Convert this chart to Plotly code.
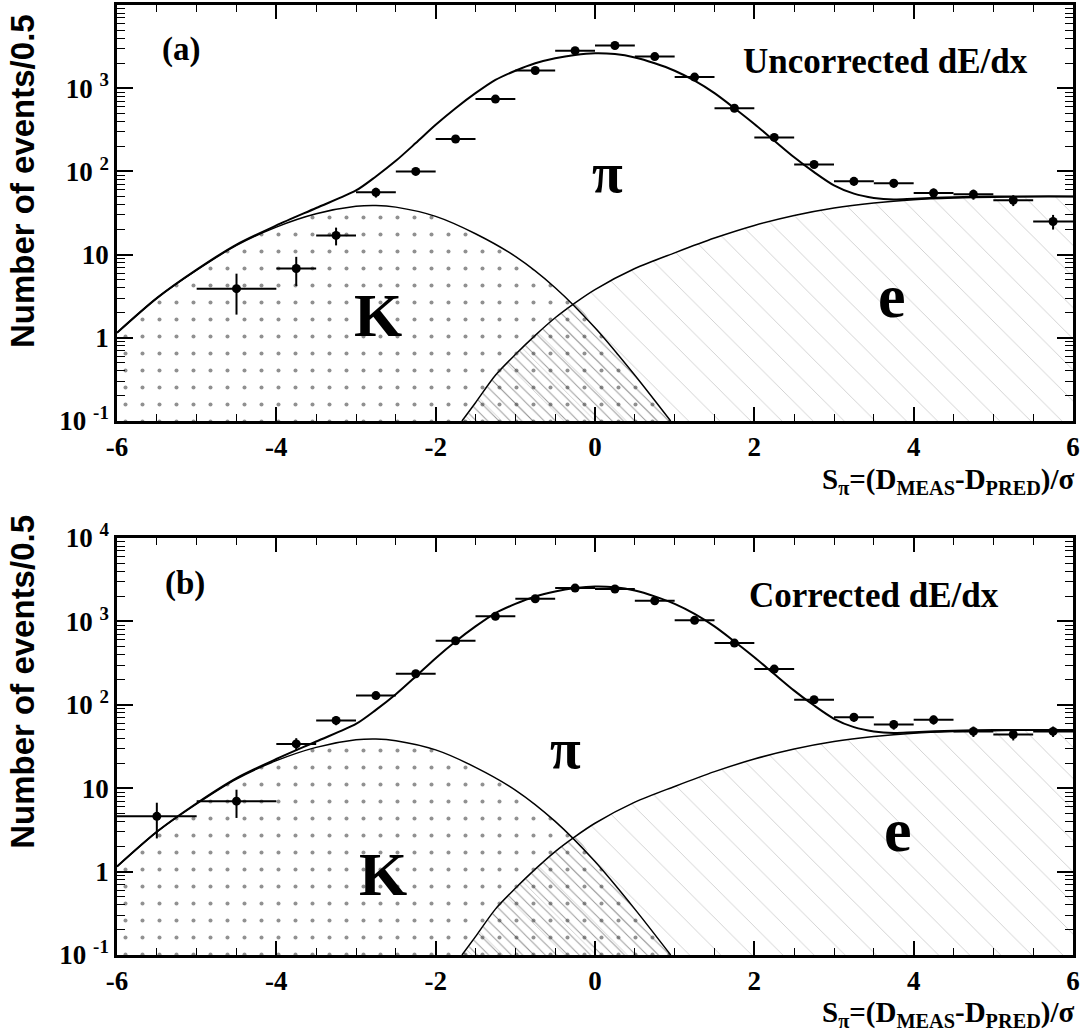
import plotly.graph_objects as go

# ---------------- data points ----------------
# panel (a): uncorrected dE/dx
xa = [-4.5, -3.75, -3.25, -2.75, -2.25, -1.75, -1.25, -0.75, -0.25, 0.25, 0.75,
      1.25, 1.75, 2.25, 2.75, 3.25, 3.75, 4.25, 4.75, 5.25, 5.75]
xa_err = [0.5] + [0.25] * 20
ya = [3.9, 6.8, 17, 56, 100, 245, 740, 1630, 2820, 3260, 2400,
      1360, 575, 256, 121, 76, 72, 55, 53, 45, 25]
ya_err = [2.0, 2.6, 4.1, 7.5, 10, 15.7, 27, 40, 53, 57, 49,
          37, 24, 16, 11, 8.7, 8.5, 7.4, 7.3, 6.7, 5.0]

# panel (b): corrected dE/dx
xb = [-5.5, -4.5, -3.75, -3.25, -2.75, -2.25, -1.75, -1.25, -0.75, -0.25, 0.25,
      0.75, 1.25, 1.75, 2.25, 2.75, 3.25, 3.75, 4.25, 4.75, 5.25, 5.75]
xb_err = [0.5, 0.5] + [0.25] * 20
yb = [4.6, 7.0, 34, 65, 129, 236, 586, 1150, 1870, 2510, 2450,
      1770, 1030, 550, 268, 115, 71, 58, 66, 48, 44, 48]
yb_err = [2.1, 2.6, 5.8, 8.1, 11.4, 15.4, 24, 34, 43, 50, 49,
          42, 32, 23, 16, 10.7, 8.4, 7.6, 8.1, 6.9, 6.6, 6.9]

# ---------------- fit curves (same in both panels) ----------------
x_total = [-6, -5.5, -5, -4.5, -4, -3.5, -3, -2.75, -2.5, -2.25, -2, -1.75, -1.5,
           -1.25, -1, -0.75, -0.5, -0.25, 0, 0.25, 0.5, 0.75, 1, 1.25, 1.5, 1.75,
           2, 2.25, 2.5, 2.75, 3, 3.25, 3.5, 3.75, 4, 4.5, 5, 5.5, 6]
y_total = [1.15, 3.0, 6.6, 13.2, 22.4, 36.3, 59, 87, 134, 219, 363, 575, 871,
           1259, 1622, 1995, 2291, 2512, 2630, 2570, 2344, 1995, 1622, 1230, 871, 575,
           372, 234, 148, 98, 68, 54, 48, 46, 47, 49, 50, 50, 50]

x_kaon = [-6, -5.5, -5, -4.5, -4, -3.5, -3, -2.75, -2.5, -2, -1.5, -1, -0.5, 0, 0.5, 0.95]
y_kaon = [1.15, 3.0, 6.5, 12.9, 21.4, 30.9, 38.0, 38.9, 37.2, 28.8, 17.8, 9.5, 4.0,
          1.32, 0.355, 0.10]

x_elec = [-1.67, -1.5, -1.25, -1, -0.75, -0.5, -0.25, 0, 0.5, 1, 1.5, 2, 2.5, 3,
          3.5, 4, 4.5, 5, 5.5, 6]
y_elec = [0.10, 0.166, 0.355, 0.63, 1.07, 1.74, 2.63, 3.8, 6.8, 10.5, 15.8, 22.4,
          29.5, 36.3, 41.7, 45.7, 47.9, 49.0, 50.1, 50.1]

# region under both K and e: rising e edge up to the crossing, then falling K edge
x_overlap = x_elec[:7] + x_kaon[13:]
y_overlap = y_elec[:7] + y_kaon[13:]

x_ticks = [-6, -4, -2, 0, 2, 4, 6]
x_ticktext = ["-6", "-4", "-2", "0", "2", "4", "6"]
y_ticks = [0.1, 1, 10, 100, 1000, 10000]
y_ticktext_a = ["10 <sup>-1</sup>", "1", "10", "10 <sup>2</sup>", "10 <sup>3</sup>", ""]
y_ticktext_b = ["10 <sup>-1</sup>", "1", "10", "10 <sup>2</sup>", "10 <sup>3</sup>", "10 <sup>4</sup>"]

SERIF = "Liberation Serif"
SANS = "Liberation Sans"

fig = go.Figure()

panels = [("x", "y", xa, xa_err, ya, ya_err), ("x2", "y2", xb, xb_err, yb, yb_err)]
for xax, yax, xd, xde, yd, yde in panels:
    # electron component (faint hatching)
    fig.add_trace(go.Scatter(
        x=x_elec, y=y_elec, mode="lines", xaxis=xax, yaxis=yax, showlegend=False,
        line=dict(color="black", width=1.5, shape="spline", smoothing=0.8),
        fill="tozeroy", fillcolor="rgba(0,0,0,0)",
        fillpattern=dict(shape="\\", fgcolor="#9a9a9a", bgcolor="rgba(0,0,0,0)",
                         size=22, solidity=0.04)))
    # kaon component (sparse dots)
    fig.add_trace(go.Scatter(
        x=x_kaon, y=y_kaon, mode="lines", xaxis=xax, yaxis=yax, showlegend=False,
        line=dict(color="black", width=1.5, shape="spline", smoothing=0.8),
        fill="tozeroy", fillcolor="rgba(0,0,0,0)",
        fillpattern=dict(shape=".", fgcolor="#222222", bgcolor="rgba(0,0,0,0)",
                         size=17, solidity=0.045)))
    # overlap of K and e (denser cross hatching)
    fig.add_trace(go.Scatter(
        x=x_overlap, y=y_overlap, mode="lines", xaxis=xax, yaxis=yax, showlegend=False,
        line=dict(color="rgba(0,0,0,0)", width=0, shape="spline", smoothing=0.6),
        fill="tozeroy", fillcolor="rgba(0,0,0,0)",
        fillpattern=dict(shape="\\", fgcolor="#333333", bgcolor="rgba(0,0,0,0)",
                         size=8, solidity=0.12)))
    # total fit
    fig.add_trace(go.Scatter(
        x=x_total, y=y_total, mode="lines", xaxis=xax, yaxis=yax, showlegend=False,
        line=dict(color="black", width=2, shape="spline", smoothing=0.8)))
    # data
    fig.add_trace(go.Scatter(
        x=xd, y=yd, mode="markers", xaxis=xax, yaxis=yax, showlegend=False,
        marker=dict(color="black", size=9, symbol="circle"),
        error_x=dict(type="data", array=xde, color="black", thickness=2, width=0),
        error_y=dict(type="data", array=yde, color="black", thickness=2, width=0)))

x_minor = [i * 0.5 for i in range(-12, 13) if i % 4 != 0]
y_minor = [m * 10.0 ** e for e in range(-1, 4) for m in range(2, 10)]

xaxis_common = dict(
    range=[-6, 6], showline=True, linecolor="black", linewidth=2.5, mirror="ticks",
    ticks="inside", ticklen=14, tickwidth=1.5, tickcolor="black",
    tickmode="array", tickvals=x_ticks, ticktext=x_ticktext,
    tickfont=dict(family=SERIF, size=27, color="black", weight="bold"),
    showgrid=False, zeroline=False,
    minor=dict(ticks="inside", ticklen=7, tickwidth=1.2, tickcolor="black",
               tickmode="array", tickvals=x_minor, showgrid=False),
)
yaxis_common = dict(
    type="log", range=[-1, 4], showline=True, linecolor="black", linewidth=2.5,
    mirror="ticks", ticks="inside", ticklen=16, tickwidth=1.5, tickcolor="black",
    tickmode="array", tickvals=y_ticks,
    tickfont=dict(family=SERIF, size=27, color="black", weight="bold"),
    showgrid=False, zeroline=False,
    minor=dict(ticks="inside", ticklen=8, tickwidth=1.2, tickcolor="black",
               tickmode="array", tickvals=y_minor, showgrid=False),
)

dom_a = [0.5621, 1.0]
dom_b = [0.0, 0.4389]

fig.update_layout(
    width=1092, height=1033,
    margin=dict(l=117, r=19, t=5, b=78, autoexpand=False),
    paper_bgcolor="white", plot_bgcolor="white",
    xaxis=dict(xaxis_common, anchor="y", domain=[0, 1]),
    yaxis=dict(yaxis_common, anchor="x", domain=dom_a, ticktext=y_ticktext_a),
    xaxis2=dict(xaxis_common, anchor="y2", domain=[0, 1]),
    yaxis2=dict(yaxis_common, anchor="x2", domain=dom_b, ticktext=y_ticktext_b),
)

def txt(s, x, y, xref, yref, size, family=SERIF, xanchor="center", yanchor="middle", **kw):
    fig.add_annotation(text=s, x=x, y=y, xref=xref, yref=yref, showarrow=False,
                       xanchor=xanchor, yanchor=yanchor,
                       font=dict(family=family, size=size, color="black", weight="bold"),
                       **kw)

# panel (a) labels
txt("(a)", 0.067, 0.892, "x domain", "y domain", 33)
txt("Uncorrected dE/dx", 0.804, 0.865, "x domain", "y domain", 35)
txt("π", 0.5126, 0.595, "x domain", "y domain", 56)
txt("K", 0.273, 0.255, "x domain", "y domain", 62)
txt("e", 0.8105, 0.30, "x domain", "y domain", 62)

# panel (b) labels
txt("(b)", 0.071, 0.892, "x2 domain", "y2 domain", 33)
txt("Corrected dE/dx", 0.792, 0.862, "x2 domain", "y2 domain", 35)
txt("π", 0.469, 0.495, "x2 domain", "y2 domain", 56)
txt("K", 0.278, 0.195, "x2 domain", "y2 domain", 62)
txt("e", 0.817, 0.30, "x2 domain", "y2 domain", 62)

# axis titles
xtitle = "S<sub>π</sub>=(D<sub>MEAS</sub>-D<sub>PRED</sub>)/σ"
txt(xtitle, 1.004, 0.499, "paper", "paper", 29, xanchor="right")
txt(xtitle, 1.004, -0.062, "paper", "paper", 29, xanchor="right")
ytitle = "Number of events/0.5"
txt(ytitle, -0.099, 0.815, "paper", "paper", 33, family=SANS, textangle=-90)
txt(ytitle, -0.099, 0.288, "paper", "paper", 33, family=SANS, textangle=-90)

fig.write_html("out.html",
               config={"displayModeBar": False},
               post_script="document.body.style.margin='0px';"
                           "document.body.style.overflow='hidden';")
